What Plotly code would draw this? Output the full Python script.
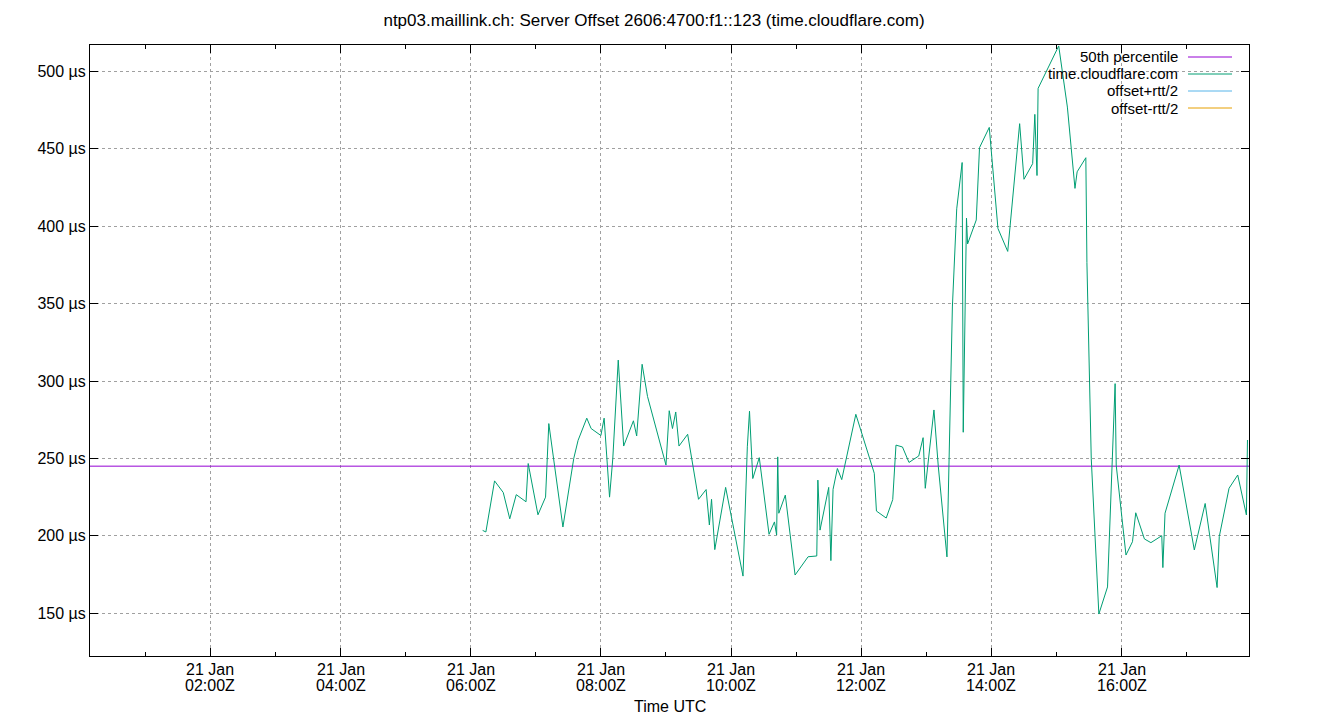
import plotly.graph_objects as go

# ---------------- data ----------------
day = "2025-01-21"
times = [
    "06:11", "06:14", "06:22", "06:30", "06:36", "06:42", "06:51", "06:53", "07:02", "07:09",
    "07:12", "07:25", "07:35", "07:39", "07:47", "07:51", "08:00", "08:03", "08:08", "08:11",
    "08:16", "08:21", "08:30", "08:33", "08:38", "08:43", "09:00", "09:03", "09:06", "09:09",
    "09:12", "09:20", "09:30", "09:37", "09:40", "09:42", "09:45", "09:55", "10:11", "10:15",
    "10:17", "10:20", "10:26", "10:35", "10:40", "10:42", "10:43", "10:44", "10:50", "10:59",
    "11:11", "11:19", "11:20", "11:22", "11:30", "11:32", "11:34", "11:38", "11:42", "11:55",
    "12:12", "12:14", "12:23", "12:29", "12:32", "12:38", "12:44", "12:53", "12:57", "12:59",
    "13:07", "13:11", "13:19", "13:21", "13:24", "13:28", "13:33", "13:34", "13:37", "13:38",
    "13:46", "13:49", "13:58", "14:06", "14:15", "14:26", "14:30", "14:38", "14:40", "14:42",
    "14:43", "15:02", "15:10", "15:17", "15:19", "15:27", "15:28", "15:32", "15:35", "15:39",
    "15:47", "15:54", "15:55", "15:58", "16:04", "16:10", "16:13", "16:21", "16:27", "16:37",
    "16:38", "16:40", "16:53", "17:07", "17:17", "17:28", "17:30", "17:39", "17:47", "17:55",
    "17:56",
]
offset_us = [
    203.5, 202.5, 235.5, 228.0, 211.0, 226.6, 222.0, 246.7, 213.6, 225.0,
    272.5, 205.7, 250.0, 261.7, 276.0, 269.3, 264.8, 276.0, 225.0, 250.0,
    313.5, 258.0, 274.3, 264.5, 310.8, 290.0, 245.7, 280.8, 269.3, 280.0,
    258.0, 265.6, 223.6, 229.9, 207.0, 223.6, 191.1, 231.3, 174.0, 257.5,
    280.5, 237.0, 250.5, 201.0, 209.0, 200.5, 251.0, 214.6, 226.3, 174.7,
    186.5, 187.0, 236.0, 203.7, 231.3, 184.0, 230.0, 243.5, 236.3, 278.5,
    240.4, 216.0, 211.5, 223.4, 258.6, 257.4, 247.4, 251.6, 263.4, 230.7,
    281.3, 245.0, 186.4, 248.5, 347.8, 411.2, 441.1, 266.9, 405.2, 388.5,
    404.0, 450.7, 463.8, 398.5, 383.7, 466.2, 430.3, 440.4, 472.2, 432.7,
    489.0, 516.4, 476.9, 424.4, 435.1, 444.2, 376.5, 249.8, 209.0, 149.5,
    167.0, 298.3, 245.7, 225.3, 187.6, 196.2, 214.9, 198.0, 195.6, 200.1,
    179.5, 214.6, 245.7, 190.9, 220.9, 166.6, 199.5, 230.7, 239.3, 213.5,
    261.9,
]
median_us = 245.0

x_start = "00:09:06"
x_end = "17:57:24"
y_range = [122.4, 517.0]

ytick_vals = [150, 200, 250, 300, 350, 400, 450, 500]
ytick_text = [f"{v} µs" for v in ytick_vals]
xtick_times = ["02:00", "04:00", "06:00", "08:00", "10:00", "12:00", "14:00", "16:00"]
xtick_date = "21 Jan"
xtick_time_text = [f"{t}Z" for t in xtick_times]

legend_names = ["50th percentile", "time.cloudflare.com", "offset+rtt/2", "offset-rtt/2"]
legend_colors = ["#9400d3", "#009e73", "#56b4e9", "#e69f00"]

title = "ntp03.maillink.ch: Server Offset 2606:4700:f1::123 (time.cloudflare.com)"
x_title = "Time UTC"

# ---------------- figure ----------------
FONT = "Liberation Sans, Arial, sans-serif"
FS = 16
W, H = 1340, 720
ML, MR, MT, MB = 90, 91, 45, 64
PW, PH = W - ML - MR, H - MT - MB

xs = [f"{day} {t}" for t in times]
x0 = f"{day} {x_start}"
x1 = f"{day} {x_end}"
tickvals_x = [f"{day} {t}" for t in xtick_times]

fig = go.Figure()

fig.add_trace(go.Scatter(
    x=[x0, x1], y=[median_us, median_us], mode="lines",
    line=dict(color=legend_colors[0], width=1), name=legend_names[0],
    showlegend=False, hoverinfo="skip"))

fig.add_trace(go.Scatter(
    x=xs, y=offset_us, mode="lines",
    line=dict(color=legend_colors[1], width=1), name=legend_names[1],
    showlegend=False))

grid = dict(showgrid=True, gridcolor="#a0a0a0", gridwidth=1, griddash="dot")

fig.update_xaxes(
    type="date", range=[x0, x1], automargin=False,
    tickmode="array", tickvals=tickvals_x, showticklabels=False,
    ticks="inside", ticklen=8, tickcolor="black", tickwidth=1,
    showline=True, linecolor="black", linewidth=1, mirror="ticks",
    minor=dict(ticks="inside", ticklen=4, tickcolor="black", dtick=3600000,
               showgrid=False),
    zeroline=False, **grid)

fig.update_yaxes(
    range=y_range, automargin=False,
    tickmode="array", tickvals=ytick_vals, ticktext=ytick_text,
    ticks="inside", ticklen=8, tickcolor="black", tickwidth=1,
    showline=True, linecolor="black", linewidth=1, mirror="ticks",
    tickfont=dict(family=FONT, size=FS, color="black"),
    zeroline=False, **grid)

def px_x(p):
    return (p - ML) / PW

def px_y(p):
    return (H - MB - p) / PH

annotations = []
for tv, tt in zip(tickvals_x, xtick_time_text):
    annotations.append(dict(x=tv, xref="x", y=0, yref="paper", yshift=-13,
                            xanchor="center", yanchor="middle", text=xtick_date,
                            showarrow=False, font=dict(family=FONT, size=FS, color="black")))
    annotations.append(dict(x=tv, xref="x", y=0, yref="paper", yshift=-29,
                            xanchor="center", yanchor="middle", text=tt,
                            showarrow=False, font=dict(family=FONT, size=FS, color="black")))
annotations.append(dict(x=0.5, xref="paper", y=0, yref="paper", yshift=-50,
                        xanchor="center", yanchor="middle", text=x_title,
                        showarrow=False, font=dict(family=FONT, size=FS, color="black")))

shapes = [dict(type="rect", xref="paper", yref="paper",
               x0=px_x(1008), x1=1, y0=px_y(118), y1=1,
               fillcolor="white", line=dict(width=0), layer="between")]
rows = [57, 74, 91, 108]
for name, col, ry in zip(legend_names, legend_colors, rows):
    annotations.append(dict(xref="paper", yref="paper", x=px_x(1180), y=px_y(ry),
                            xanchor="right", yanchor="middle", text=name, showarrow=False,
                            font=dict(family=FONT, size=15, color="black")))
    shapes.append(dict(type="line", xref="paper", yref="paper",
                       x0=px_x(1188), x1=px_x(1232), y0=px_y(ry), y1=px_y(ry),
                       line=dict(color=col, width=1), layer="above"))

fig.update_layout(
    width=W, height=H,
    margin=dict(l=ML, r=MR, t=MT, b=MB),
    paper_bgcolor="white", plot_bgcolor="white",
    title=dict(text=title, x=654 / W, xanchor="center", y=1 - 20 / H, yanchor="middle",
               font=dict(family=FONT, size=17, color="black")),
    showlegend=False,
    shapes=shapes, annotations=annotations,
    font=dict(family=FONT, size=FS, color="black"),
)

fig.write_html("out.html")
